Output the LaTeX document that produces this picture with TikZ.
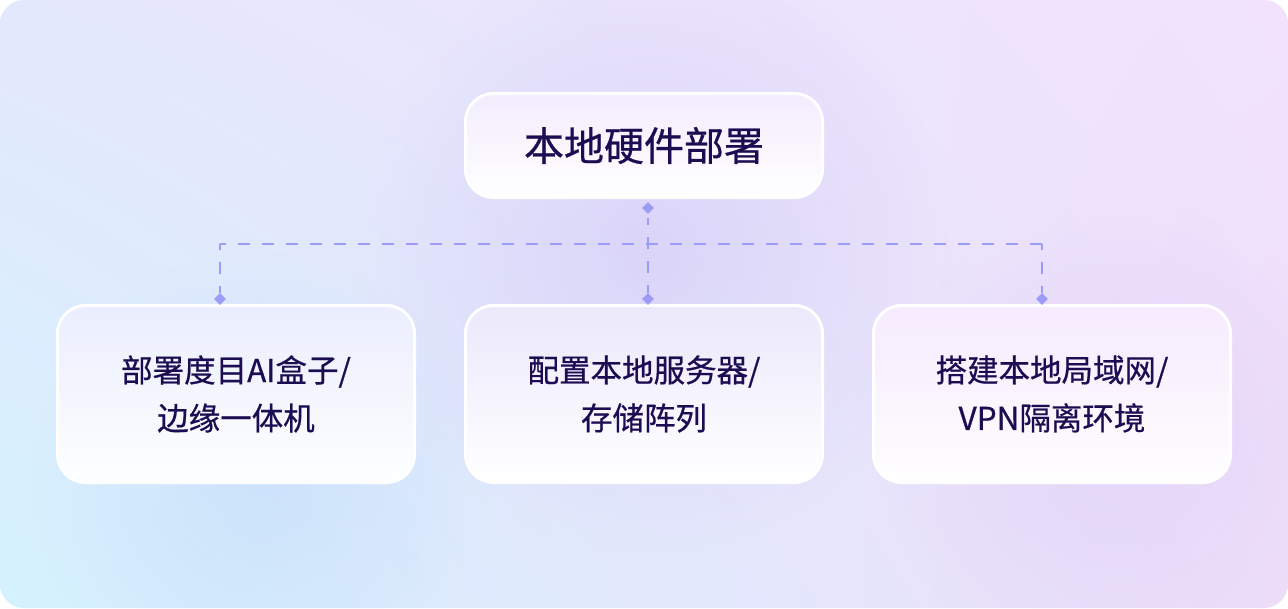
\documentclass[tikz,border=0pt]{standalone}
\usepackage{fontspec}
\newfontfamily\cjk[FakeBold=0.6]{Noto Sans CJK SC}
\usetikzlibrary{shapes.geometric,fadings,shadings}
\definecolor{bgTL}{HTML}{E4E8FD}
\definecolor{bgTR}{HTML}{F2E2FD}
\definecolor{bgBL}{HTML}{D4F2FE}
\definecolor{bgBR}{HTML}{EEDEFA}
\definecolor{txt}{HTML}{1C0D52}
\definecolor{conn}{HTML}{9C9CF8}
\definecolor{glowP}{HTML}{D4CCF6}
\definecolor{glowB}{HTML}{C4DEFA}
\definecolor{glowR}{HTML}{E0D0F6}
\tikzfading[name=glowfade, inner color=transparent!35, outer color=transparent!100]
\tikzset{
  card/.style={draw=white, line width=3pt, rounded corners=28pt,
    minimum width=357pt, text=txt, align=center, inner sep=0pt},
  titlecard/.style={card, minimum height=104pt, font=\cjk\fontsize{40}{46}\selectfont},
  leafcard/.style={card, minimum height=177pt, font=\cjk\fontsize{31.5}{48}\selectfont},
  link/.style={draw=conn, line width=2pt, dash pattern=on 12pt off 12pt},
  dot/.style={diamond, fill=conn, draw=none, inner sep=0pt, minimum size=12pt}
}
\begin{document}
\begin{tikzpicture}[x=1pt,y=-1pt]
\useasboundingbox (0,0) rectangle (1288,608);
% background
\begin{scope}
  \clip[rounded corners=24pt] (0,0) rectangle (1288,608);
  \shade[upper left=bgTL, upper right=bgTR, lower left=bgBL, lower right=bgBR] (0,0) rectangle (1288,608);
  \fill[glowP, path fading=glowfade] (650,250) circle[radius=300];
  \fill[glowB, path fading=glowfade] (260,480) circle[radius=230];
  \fill[glowR, path fading=glowfade] (1120,440) circle[radius=240];
\end{scope}
% cards
\node[titlecard, top color=bgTL!40!bgTR!70!white, bottom color=white] (root) at (644,145.5) {本地硬件部署};
\node[leafcard, top color=bgTL!75!white, bottom color=white!96!bgBL] (a) at (236,394) {部署度目AI盒子/\\边缘一体机};
\node[leafcard, top color=glowP!45!white, bottom color=white] (b) at (644,394) {配置本地服务器/\\存储阵列};
\node[leafcard, top color=bgTR!70!white, bottom color=white!96!bgBR] (c) at (1052,394) {搭建本地局域网/\\VPN隔离环境};
% connectors
\node[dot] (d0) at (648,208) {};
\node[dot] (d1) at (220,299) {};
\node[dot] (d2) at (648,299) {};
\node[dot] (d3) at (1042,299) {};
\coordinate (j1) at (220,244);
\coordinate (j3) at (1042,244);
\draw[link, dash phase=5pt] (d0.south) ++(0,4) -- (d2.north);
\draw[link, dash phase=6pt] (j1) -- (j3);
\draw[link, dash phase=6pt] (j1) -- (d1.north);
\draw[link, dash phase=6pt] (j3) -- (d3.north);
\end{tikzpicture}
\end{document}
